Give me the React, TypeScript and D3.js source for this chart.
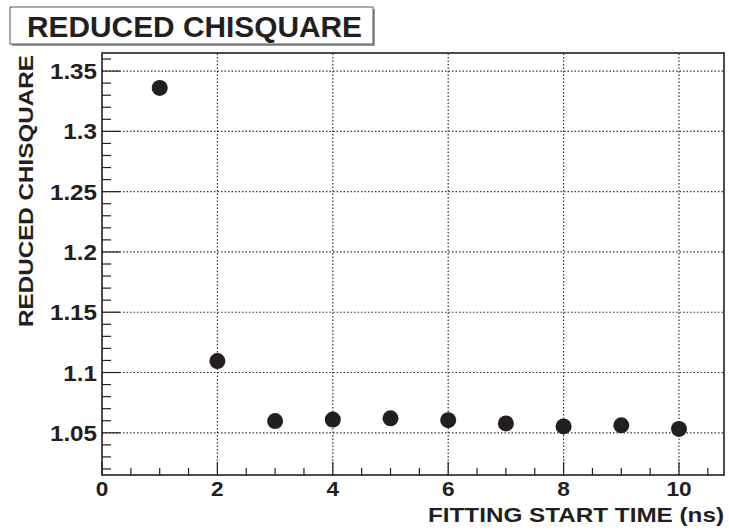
import React from "react";
import * as d3 from "d3";

// fitting start time (ns) vs reduced chi-square
const startTimes = [1, 2, 3, 4, 5, 6, 7, 8, 9, 10];
const chi2Values = [1.336, 1.1095, 1.0597, 1.061, 1.062, 1.0605, 1.0578, 1.0553, 1.0562, 1.0532];

const xTicks = [0, 2, 4, 6, 8, 10];
const yTicks = [1.05, 1.1, 1.15, 1.2, 1.25, 1.3, 1.35];

const W = 729;
const H = 530;
const margin = { left: 102, right: 5, top: 53, bottom: 55 };
const ink = "#231f20";

export default function App() {
  const x = d3.scaleLinear().domain([0, 10.78]).range([margin.left, W - margin.right]);
  const y = d3.scaleLinear().domain([1.015, 1.365]).range([H - margin.bottom, margin.top]);

  const [x0, x1] = x.range();
  const [y0, y1] = y.range();

  const xMinor = d3.range(0, 10.78, 0.5);
  const yMinor = d3.range(1.02, 1.365, 0.01).map((v) => +v.toFixed(2));

  const font = "'Liberation Sans', Arial, Helvetica, sans-serif";

  return (
    <svg
      width={W}
      height={H}
      style={{ position: "absolute", left: 0, top: 0, background: "#fff" }}
      fontFamily={font}
    >
      {/* title box */}
      <rect x={12} y={9} width={363} height={37} fill="#999" />
      <rect x={10} y={7} width={363} height={37} fill="#fff" stroke="#555" strokeWidth={1} />
      <text x={27} y={37} fontSize={29} fontWeight="bold" fill={ink}
        textLength={335} lengthAdjust="spacingAndGlyphs">
        REDUCED CHISQUARE
      </text>

      {/* grid */}
      {xTicks.filter((t) => t > 0).map((t) => (
        <line key={"gx" + t} x1={x(t)} x2={x(t)} y1={y0} y2={y1}
          stroke="#333" strokeWidth={1.2} strokeDasharray="1.5,2" />
      ))}
      {yTicks.map((t) => (
        <line key={"gy" + t} x1={x0} x2={x1} y1={y(t)} y2={y(t)}
          stroke="#333" strokeWidth={1.2} strokeDasharray="1.5,2" />
      ))}

      {/* ticks */}
      {xMinor.map((t) => (
        <line key={"mx" + t} x1={x(t)} x2={x(t)} y1={y0} y2={y0 - (t % 2 === 0 ? 13 : 7)}
          stroke={ink} strokeWidth={1.2} />
      ))}
      {yMinor.map((t) => (
        <line key={"my" + t} x1={x0} x2={x0 + (Math.round(t * 100) % 5 === 0 ? 18 : 9)} y1={y(t)} y2={y(t)}
          stroke={ink} strokeWidth={1.2} />
      ))}

      {/* frame */}
      <rect x={x0} y={y1} width={x1 - x0} height={y0 - y1} fill="none" stroke={ink} strokeWidth={1.6} />

      {/* tick labels */}
      {xTicks.map((t) => (
        <text key={"lx" + t} transform={`translate(${x(t)},${y0 + 21}) scale(1.08,1)`}
          textAnchor="middle" fontSize={21} fontWeight="bold" fill={ink}>
          {t}
        </text>
      ))}
      {yTicks.map((t) => (
        <text key={"ly" + t} transform={`translate(${x0 - 5},${y(t) + 8}) scale(1.1,1)`}
          textAnchor="end" fontSize={22} fontWeight="bold" fill={ink}>
          {d3.format("")(t)}
        </text>
      ))}

      {/* axis titles */}
      <text x={428} y={H - 8} fontSize={21} fontWeight="bold" fill={ink}
        textLength={296} lengthAdjust="spacingAndGlyphs">
        FITTING START TIME (ns)
      </text>
      <text transform={`translate(33,327) rotate(-90)`} fontSize={21} fontWeight="bold" fill={ink}
        textLength={272} lengthAdjust="spacingAndGlyphs">
        REDUCED CHISQUARE
      </text>

      {/* markers */}
      {startTimes.map((t, i) => (
        <circle key={"p" + t} cx={x(t)} cy={y(chi2Values[i])} r={8} fill={ink} />
      ))}
    </svg>
  );
}
